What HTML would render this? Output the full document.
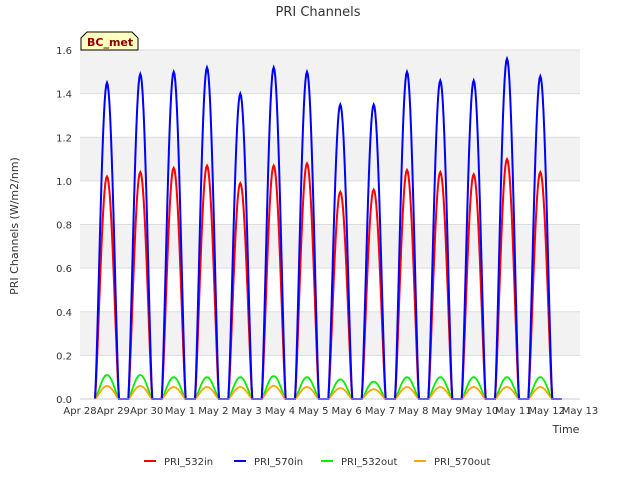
<!DOCTYPE html>
<html><head><meta charset="utf-8"><style>
body{margin:0;background:#fff;font-family:"Liberation Sans","DejaVu Sans",sans-serif;}
svg text{font-family:"DejaVu Sans","Liberation Sans",sans-serif;}
</style></head><body>
<svg id="c" width="640" height="480" xmlns="http://www.w3.org/2000/svg">
<rect x="0" y="0" width="640" height="480" fill="#fff"/>
<g id="bands"></g>
<g id="grid"></g>
<g id="series"></g>
<g id="axes"></g>
<text x="318" y="16" font-size="13" text-anchor="middle" fill="#333">PRI Channels</text>
<text x="18" y="226" font-size="11" text-anchor="middle" fill="#333" transform="rotate(-90 18 226)">PRI Channels (W/m2/nm)</text>
<text x="566" y="433" font-size="11" text-anchor="middle" fill="#333">Time</text>
<g>
<path d="M81,50 L81,38 L87,32 L132,32 L138,38 L138,50 Z" fill="#ffffc0" stroke="#000" stroke-width="1"/>
<text x="87" y="46" font-size="11" font-weight="bold" fill="#8b0000">BC_met</text>
</g>
<g id="legend"></g>
</svg>
<script>
const days=["Apr 28","Apr 29","Apr 30","May 1","May 2","May 3","May 4","May 5","May 6","May 7","May 8","May 9","May 10","May 11","May 12","May 13"];
const yTicks=[0,0.2,0.4,0.6,0.8,1.0,1.2,1.4,1.6];
const seriesNames=["PRI_532in","PRI_570in","PRI_532out","PRI_570out"];
const seriesColors=["red","blue","#00ee00","orange"];
const peak532in=[1.02,1.04,1.06,1.07,0.99,1.07,1.08,0.95,0.96,1.05,1.04,1.03,1.10,1.04];
const peak570in=[1.45,1.49,1.50,1.52,1.40,1.52,1.50,1.35,1.35,1.50,1.46,1.46,1.56,1.48];
const peak532out=[0.11,0.11,0.10,0.10,0.10,0.105,0.10,0.09,0.08,0.10,0.10,0.10,0.10,0.10];
const peak570out=[0.06,0.06,0.055,0.055,0.055,0.06,0.055,0.05,0.045,0.055,0.055,0.055,0.055,0.055];
const L=80,R=580,T=50,B=399;
const xs=d=>L+(R-L)*d/15;
const ys=v=>B-(B-T)*v/1.6;
const NS="http://www.w3.org/2000/svg";
function mk(p,tag,at){const e=document.createElementNS(NS,tag);for(const k in at)e.setAttribute(k,at[k]);p.appendChild(e);return e;}
const bands=document.getElementById('bands'),grid=document.getElementById('grid'),axes=document.getElementById('axes'),ser=document.getElementById('series'),leg=document.getElementById('legend');
mk(bands,'rect',{x:L,y:T,width:R-L,height:B-T,fill:'#fff'});
for(let i=0;i<yTicks.length-1;i++){if(i%2===1){const r=mk(bands,'rect',{x:L,y:ys(yTicks[i+1]),width:R-L,height:ys(yTicks[i])-ys(yTicks[i+1]),fill:'#f2f2f2'});

}}
yTicks.forEach(v=>{mk(grid,'line',{x1:L,x2:R,y1:ys(v),y2:ys(v),stroke:'#ddd','stroke-width':1});
const t=mk(axes,'text',{x:L-8,y:ys(v)+4,'font-size':10,'text-anchor':'end',fill:'#333'});t.textContent=v.toFixed(1);

});
days.forEach((d,i)=>{const t=mk(axes,'text',{x:xs(i),y:414,'font-size':10,'text-anchor':'middle',fill:'#333'});t.textContent=d;

});
mk(axes,'line',{x1:L,x2:R,y1:B,y2:B,stroke:'#ccc'});
const peaks=[peak532in,peak570in,peak532out,peak570out];
const order=[2,3,0,1];
order.forEach(s=>{let pts=[];const arr=peaks[s];
pts.push([xs(0.45),ys(0)]);
arr.forEach((p,i)=>{const st=i+0.45,w=0.72;pts.push([xs(st),ys(0)]);
for(let k=0;k<=30;k++){const f=k/30;const v=p*Math.pow(Math.sin(Math.PI*f),1.3);pts.push([xs(st+w*f),ys(v)]);}
pts.push([xs(i+1.45),ys(0)]);});
const pl=mk(ser,'polyline',{points:pts.map(q=>q[0].toFixed(1)+','+q[1].toFixed(1)).join(' '),fill:'none',stroke:seriesColors[s],'stroke-width':s<2?2:1.8});

});
const lx=[144,234,321,414];
seriesNames.forEach((n,i)=>{const g=mk(leg,'g',{});


mk(g,'line',{x1:lx[i],x2:lx[i]+12,y1:461,y2:461,stroke:seriesColors[i],'stroke-width':2});
const t=mk(g,'text',{x:lx[i]+20,y:465,'font-size':10,fill:'#333'});t.textContent=n;});
</script>
</body></html>
